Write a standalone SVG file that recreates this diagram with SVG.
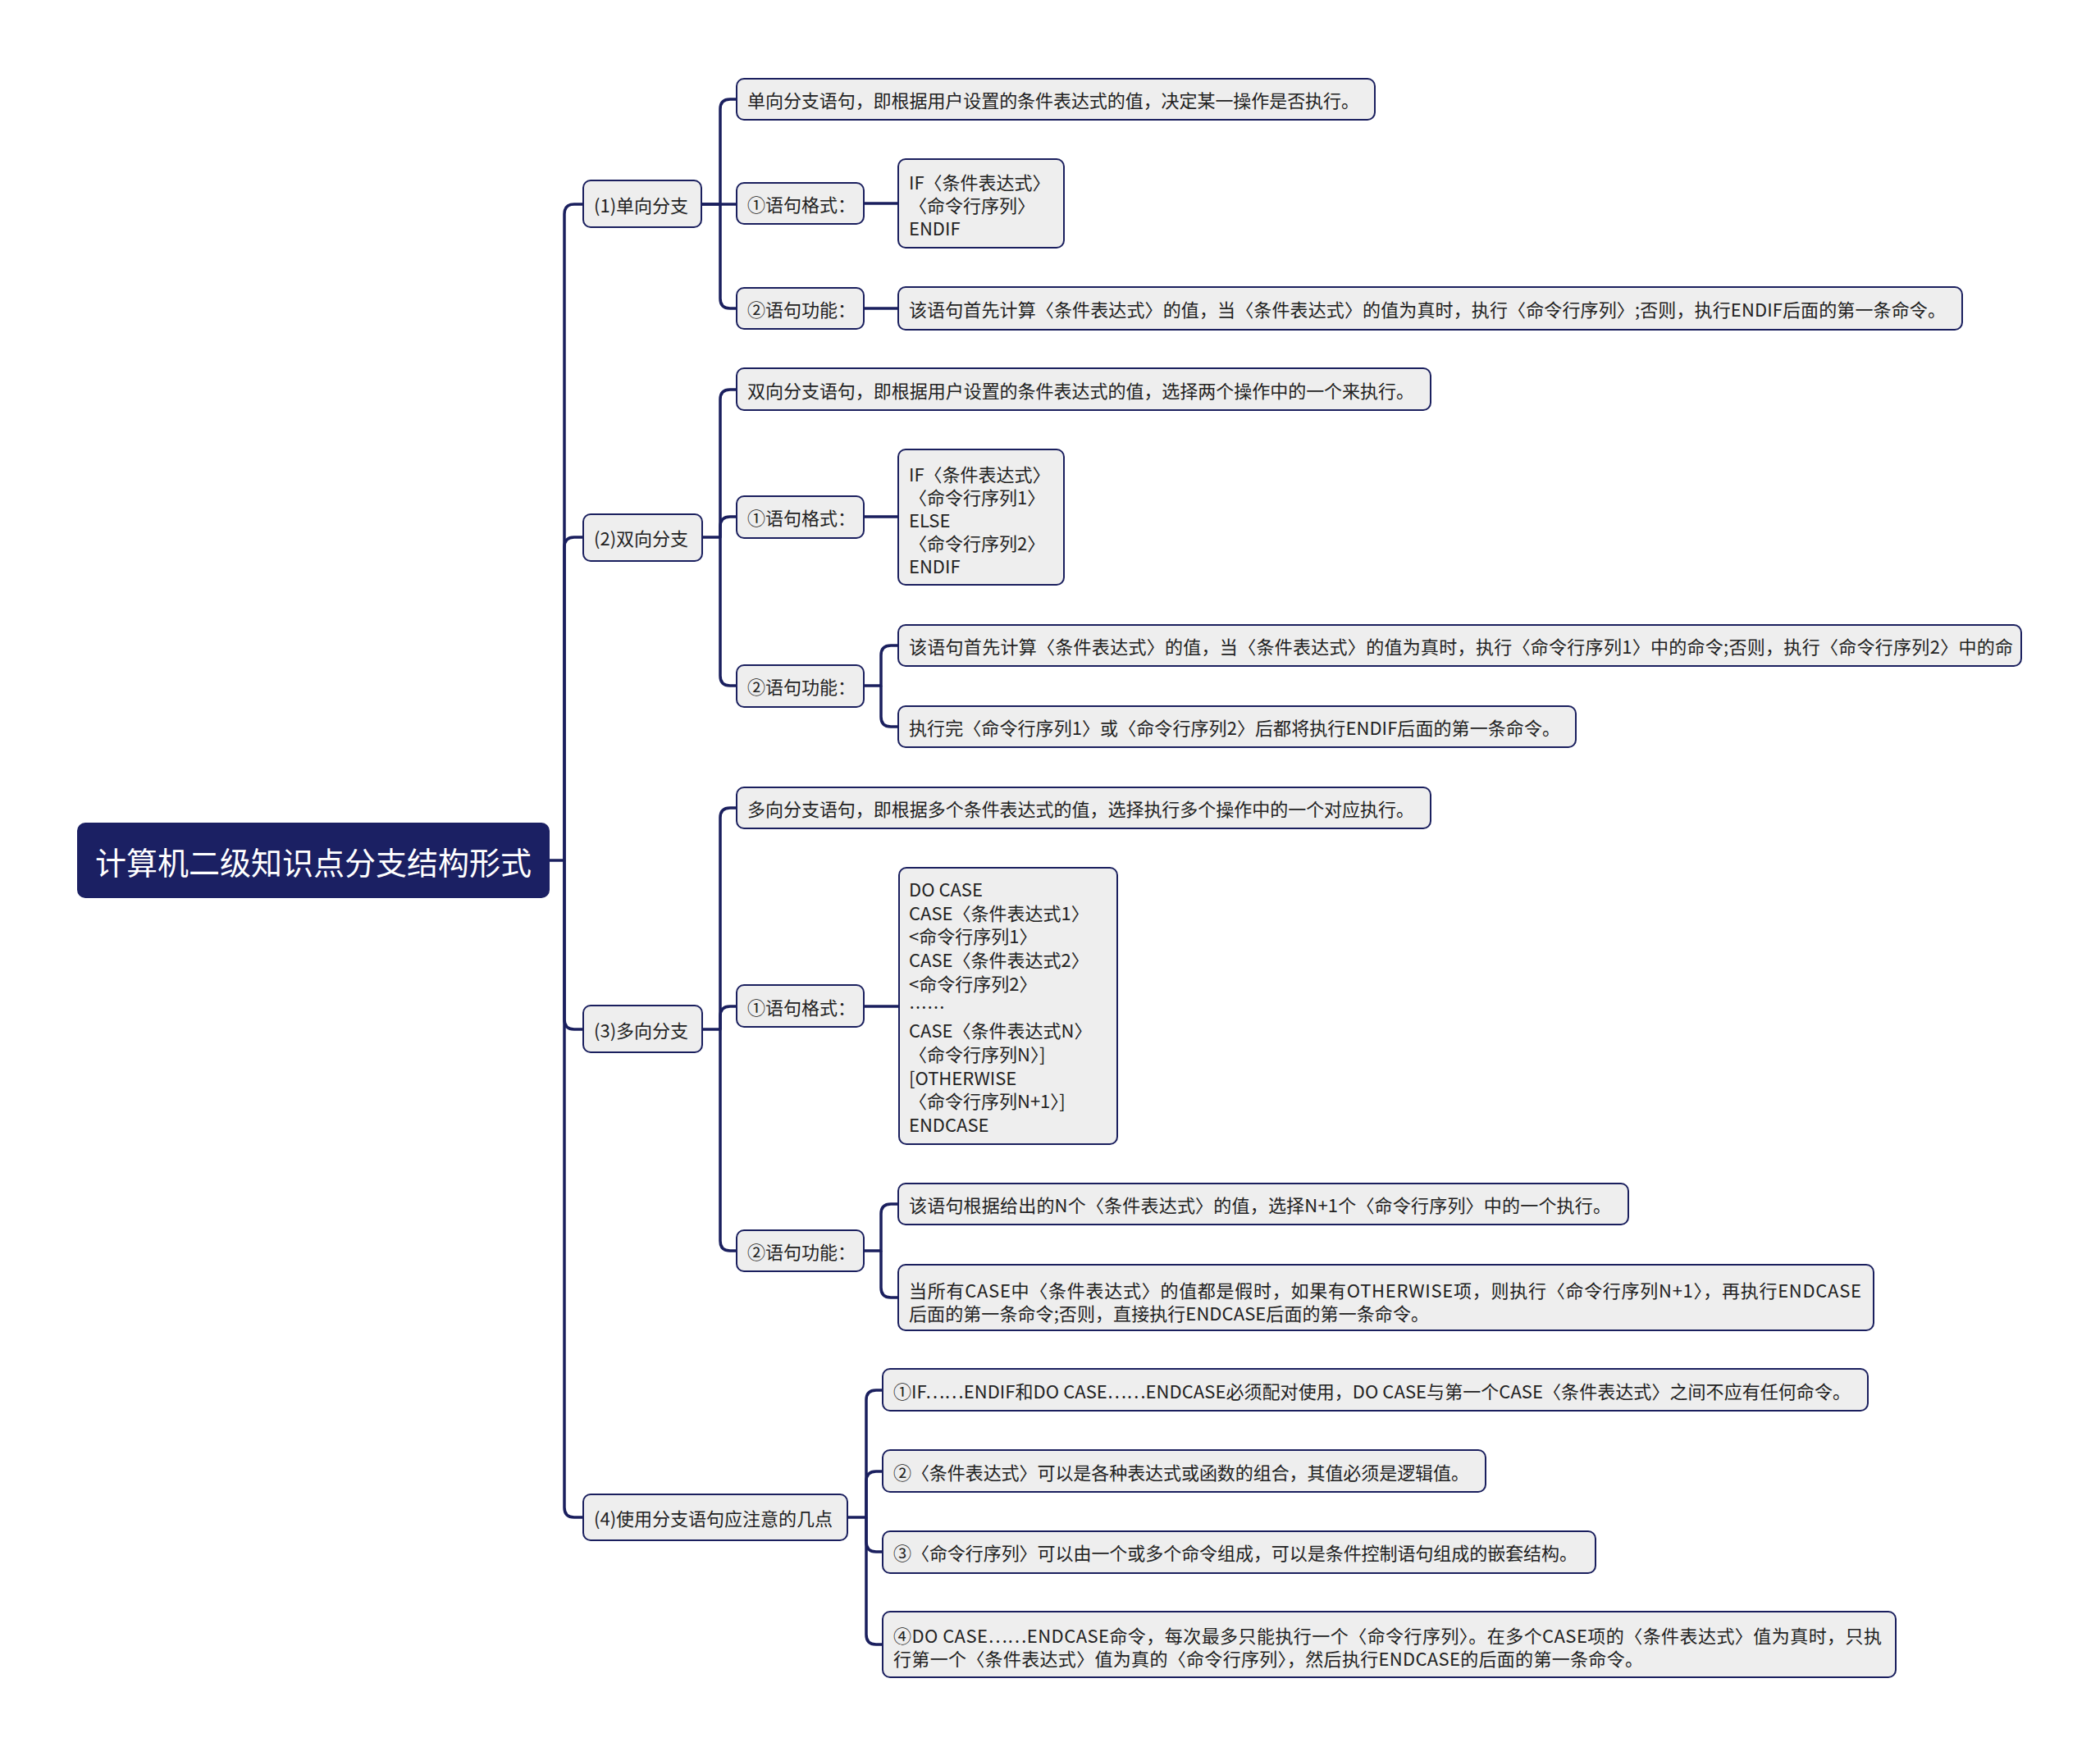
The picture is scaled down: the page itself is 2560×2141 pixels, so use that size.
<svg xmlns="http://www.w3.org/2000/svg" width="2560" height="2141" viewBox="0 0 2560 2141">
<style>
.bg{fill:#ffffff}
.box{fill:#eeeeee;stroke:#1a1f5e;stroke-width:2}
.root{fill:#1b2063;stroke:#1b2063;stroke-width:2}
.t{font-family:"Noto Sans CJK SC","Noto Sans",sans-serif;font-size:22px;fill:#222222;dominant-baseline:central}
.rt{font-family:"Noto Sans CJK SC","Noto Sans",sans-serif;font-size:38px;fill:#ffffff;dominant-baseline:central;text-anchor:middle}
.c{fill:none;stroke:#1a1f5e;stroke-width:3.5;stroke-linejoin:round}
</style>
<rect class="bg" x="0" y="0" width="2560" height="2141"/>
<g id="connectors">
<path class="c" d="M669,1049 H688 V261 Q688,249 700,249 H711"/>
<path class="c" d="M688,1049 V667 Q688,655 700,655 H711"/>
<path class="c" d="M688,1049 V1243 Q688,1255 700,1255 H711"/>
<path class="c" d="M688,1049 V1838 Q688,1850 700,1850 H711"/>
<path class="c" d="M855,249 H878 V133 Q878,121 890,121 H898"/>
<path class="c" d="M855,249 H898"/>
<path class="c" d="M878,249 V364 Q878,376 890,376 H898"/>
<path class="c" d="M1053,248 H1095"/>
<path class="c" d="M1053,376 H1095"/>
<path class="c" d="M856,655 H878 V487 Q878,475 890,475 H898"/>
<path class="c" d="M878,655 V642 Q878,630 890,630 H898"/>
<path class="c" d="M878,655 V824 Q878,836 890,836 H898"/>
<path class="c" d="M1053,630 H1095"/>
<path class="c" d="M1053,836 H1074 V799 Q1074,787 1086,787 H1095"/>
<path class="c" d="M1074,836 V874 Q1074,886 1086,886 H1095"/>
<path class="c" d="M856,1255 H878 V997 Q878,985 890,985 H898"/>
<path class="c" d="M878,1255 V1239 Q878,1227 890,1227 H898"/>
<path class="c" d="M878,1255 V1513 Q878,1525 890,1525 H898"/>
<path class="c" d="M1053,1227 H1096"/>
<path class="c" d="M1053,1525 H1074 V1480 Q1074,1468 1086,1468 H1095"/>
<path class="c" d="M1074,1525 V1570 Q1074,1582 1086,1582 H1095"/>
<path class="c" d="M1033,1850 H1056 V1707 Q1056,1695 1068,1695 H1076"/>
<path class="c" d="M1056,1850 V1806 Q1056,1794 1068,1794 H1076"/>
<path class="c" d="M1056,1850 V1880 Q1056,1892 1068,1892 H1076"/>
<path class="c" d="M1056,1850 V1993 Q1056,2005 1068,2005 H1076"/>
</g>
<g id="root"><rect class="root" x="95" y="1004" width="574" height="90" rx="9"/><text class="rt" x="382" y="1049">计算机二级知识点分支结构形式</text></g>
<g id="n1"><rect class="box" x="711" y="220" width="144" height="57" rx="9"/><text class="t" x="724" y="249">(1)单向分支</text></g>
<g id="n2"><rect class="box" x="711" y="627" width="145" height="57" rx="9"/><text class="t" x="724" y="655">(2)双向分支</text></g>
<g id="n3"><rect class="box" x="711" y="1226" width="145" height="57" rx="9"/><text class="t" x="724" y="1255">(3)多向分支</text></g>
<g id="n4"><rect class="box" x="711" y="1822" width="322" height="56" rx="9"/><text class="t" x="724" y="1850">(4)使用分支语句应注意的几点</text></g>
<g id="a1"><rect class="box" x="898" y="96" width="778" height="50" rx="9"/><text class="t" x="911" y="121" textLength="746">单向分支语句，即根据用户设置的条件表达式的值，决定某一操作是否执行。</text></g>
<g id="a2"><rect class="box" x="898" y="223" width="155" height="50" rx="9"/><text class="t" x="911" y="248">①语句格式：</text></g>
<g id="a2c"><rect class="box" x="1095" y="194" width="202" height="108" rx="9"/><text class="t" x="1108" y="221">IF〈条件表达式〉</text><text class="t" x="1108" y="249">〈命令行序列〉</text><text class="t" x="1108" y="277">ENDIF</text></g>
<g id="a3"><rect class="box" x="898" y="351" width="155" height="50" rx="9"/><text class="t" x="911" y="376">②语句功能：</text></g>
<g id="a3c"><rect class="box" x="1095" y="350" width="1297" height="52" rx="9"/><text class="t" x="1108" y="376" textLength="1264">该语句首先计算〈条件表达式〉的值，当〈条件表达式〉的值为真时，执行〈命令行序列〉;否则，执行ENDIF后面的第一条命令。</text></g>
<g id="b1"><rect class="box" x="898" y="449" width="846" height="51" rx="9"/><text class="t" x="911" y="475" textLength="813">双向分支语句，即根据用户设置的条件表达式的值，选择两个操作中的一个来执行。</text></g>
<g id="b2"><rect class="box" x="898" y="605" width="155" height="51" rx="9"/><text class="t" x="911" y="630">①语句格式：</text></g>
<g id="b2c"><rect class="box" x="1095" y="548" width="202" height="165" rx="9"/><text class="t" x="1108" y="577">IF〈条件表达式〉</text><text class="t" x="1108" y="605">〈命令行序列1〉</text><text class="t" x="1108" y="633">ELSE</text><text class="t" x="1108" y="661">〈命令行序列2〉</text><text class="t" x="1108" y="689">ENDIF</text></g>
<g id="b3"><rect class="box" x="898" y="811" width="155" height="51" rx="9"/><text class="t" x="911" y="836">②语句功能：</text></g>
<g id="b3c1"><rect class="box" x="1095" y="762" width="1369" height="50" rx="9"/><text class="t" x="1108" y="787" textLength="1346">该语句首先计算〈条件表达式〉的值，当〈条件表达式〉的值为真时，执行〈命令行序列1〉中的命令;否则，执行〈命令行序列2〉中的命</text></g>
<g id="b3c2"><rect class="box" x="1095" y="861" width="826" height="50" rx="9"/><text class="t" x="1108" y="886" textLength="794">执行完〈命令行序列1〉或〈命令行序列2〉后都将执行ENDIF后面的第一条命令。</text></g>
<g id="c1"><rect class="box" x="898" y="960" width="846" height="50" rx="9"/><text class="t" x="911" y="985" textLength="813">多向分支语句，即根据多个条件表达式的值，选择执行多个操作中的一个对应执行。</text></g>
<g id="c2"><rect class="box" x="898" y="1201" width="155" height="51" rx="9"/><text class="t" x="911" y="1227">①语句格式：</text></g>
<g id="c2c"><rect class="box" x="1096" y="1058" width="266" height="337" rx="9"/>
<text class="t" x="1108" y="1083">DO CASE</text>
<text class="t" x="1108" y="1112">CASE〈条件表达式1〉</text>
<text class="t" x="1108" y="1140">&lt;命令行序列1〉</text>
<text class="t" x="1108" y="1169">CASE〈条件表达式2〉</text>
<text class="t" x="1108" y="1198">&lt;命令行序列2〉</text>
<text class="t" x="1108" y="1226">……</text>
<text class="t" x="1108" y="1255">CASE〈条件表达式N〉</text>
<text class="t" x="1108" y="1284">〈命令行序列N〉]</text>
<text class="t" x="1108" y="1313">[OTHERWISE</text>
<text class="t" x="1108" y="1341">〈命令行序列N+1〉]</text>
<text class="t" x="1108" y="1370">ENDCASE</text></g>
<g id="c3"><rect class="box" x="898" y="1500" width="155" height="50" rx="9"/><text class="t" x="911" y="1525">②语句功能：</text></g>
<g id="c3c1"><rect class="box" x="1095" y="1443" width="890" height="50" rx="9"/><text class="t" x="1108" y="1468" textLength="856">该语句根据给出的N个〈条件表达式〉的值，选择N+1个〈命令行序列〉中的一个执行。</text></g>
<g id="c3c2"><rect class="box" x="1095" y="1542" width="1189" height="80" rx="9"/><text class="t" x="1108" y="1572" textLength="1161">当所有CASE中〈条件表达式〉的值都是假时，如果有OTHERWISE项，则执行〈命令行序列N+1〉，再执行ENDCASE</text><text class="t" x="1108" y="1600" textLength="634">后面的第一条命令;否则，直接执行ENDCASE后面的第一条命令。</text></g>
<g id="d1"><rect class="box" x="1076" y="1669" width="1201" height="51" rx="9"/><text class="t" x="1089" y="1695" textLength="1167">①IF……ENDIF和DO CASE……ENDCASE必须配对使用，DO CASE与第一个CASE〈条件表达式〉之间不应有任何命令。</text></g>
<g id="d2"><rect class="box" x="1076" y="1768" width="735" height="51" rx="9"/><text class="t" x="1089" y="1794" textLength="702">②〈条件表达式〉可以是各种表达式或函数的组合，其值必须是逻辑值。</text></g>
<g id="d3"><rect class="box" x="1076" y="1867" width="869" height="51" rx="9"/><text class="t" x="1089" y="1892" textLength="834">③〈命令行序列〉可以由一个或多个命令组成，可以是条件控制语句组成的嵌套结构。</text></g>
<g id="d4"><rect class="box" x="1076" y="1965" width="1235" height="80" rx="9"/><text class="t" x="1089" y="1993" textLength="1205">④DO CASE……ENDCASE命令，每次最多只能执行一个〈命令行序列〉。在多个CASE项的〈条件表达式〉值为真时，只执</text><text class="t" x="1089" y="2021" textLength="914">行第一个〈条件表达式〉值为真的〈命令行序列〉，然后执行ENDCASE的后面的第一条命令。</text></g>
</svg>
